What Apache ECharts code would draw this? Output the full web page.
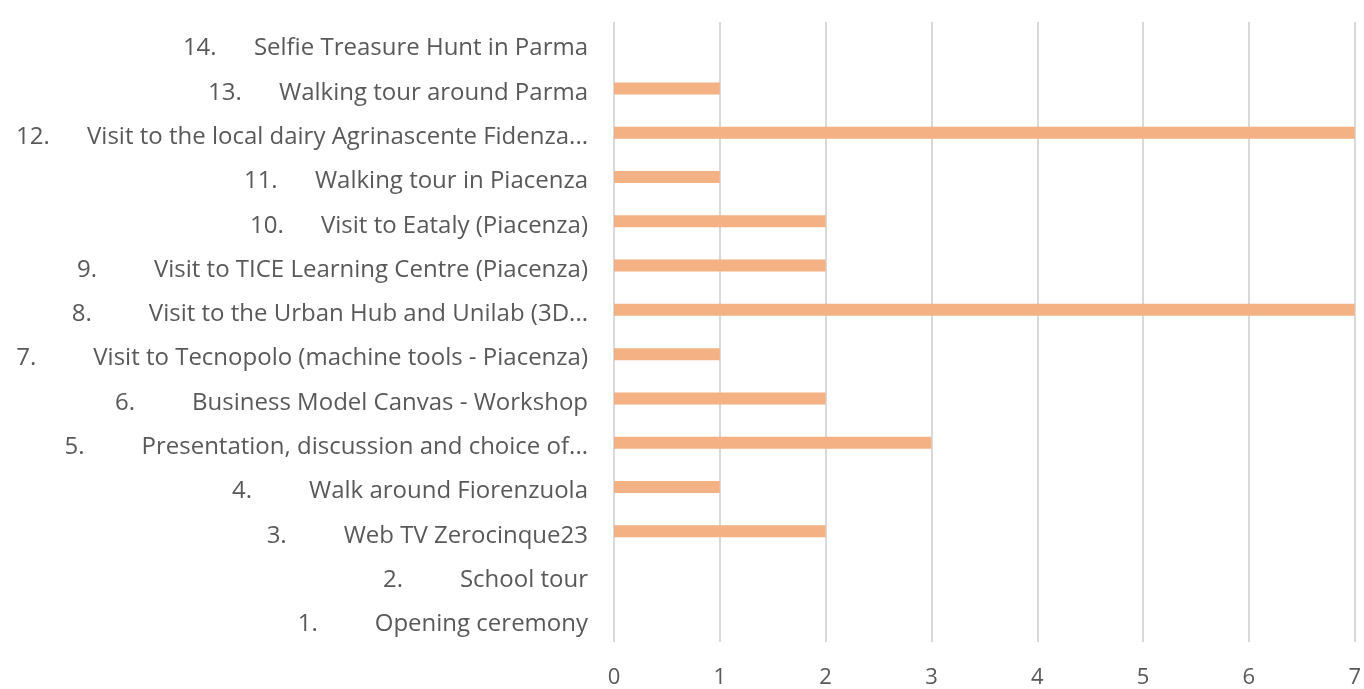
<!DOCTYPE html>
<html>
<head>
<meta charset="utf-8">
<script src="https://cdn.jsdelivr.net/npm/echarts@6/dist/echarts.min.js"></script>
<style>
    html, body { margin: 0; padding: 0; background: #fff; }
    #chart { width: 1364px; height: 689px; }
</style>
</head>
<body>
<div id="chart"></div>
<script>
var activityNums = ['1.', '2.', '3.', '4.', '5.', '6.', '7.', '8.', '9.', '10.', '11.', '12.', '13.', '14.'];
var activityNames = [
    'Opening ceremony',
    'School tour',
    'Web TV Zerocinque23',
    'Walk around Fiorenzuola',
    'Presentation, discussion and choice of...',
    'Business Model Canvas - Workshop',
    'Visit to Tecnopolo (machine tools - Piacenza)',
    'Visit to the Urban Hub and Unilab (3D...',
    'Visit to TICE Learning Centre (Piacenza)',
    'Visit to Eataly (Piacenza)',
    'Walking tour in Piacenza',
    'Visit to the local dairy Agrinascente Fidenza...',
    'Walking tour around Parma',
    'Selfie Treasure Hunt in Parma'
];
var votes = [0, 0, 2, 1, 3, 2, 1, 7, 2, 2, 1, 7, 1, 0];
var xTicks = [0, 7, 1];

(function () {
    var dom = document.getElementById('chart');
    var myChart = echarts.init(dom);
    var font = 'Open Sans';
    var categories = activityNames.map(function (name, i) {
        return activityNums[i] + '|' + name;
    });

    var option = {
        animation: false,
        grid: { left: 614, right: 6, top: 22, bottom: 45 },
        xAxis: {
            type: 'value',
            min: xTicks[0],
            max: xTicks[1],
            interval: xTicks[2],
            axisLine: { show: false },
            axisTick: { show: false },
            splitLine: { lineStyle: { color: '#d9d9d9', width: 2 } },
            axisLabel: { color: '#595959', fontSize: 22, fontFamily: font, margin: 25 }
        },
        yAxis: {
            type: 'category',
            data: categories,
            axisLine: { show: false },
            axisTick: { show: false },
            axisLabel: {
                margin: 26,
                padding: [9, 0, 0, 0],
                formatter: function (v) {
                    var p = v.split('|');
                    var style = p[0].length > 2 ? 'n2' : 'n1';
                    return '{' + style + '|' + p[0] + '}{t|' + p[1] + '}';
                },
                rich: {
                    n1: { width: 77, align: 'left', color: '#595959', fontSize: 24, fontFamily: font },
                    n2: { width: 71, align: 'left', color: '#595959', fontSize: 24, fontFamily: font },
                    t: { color: '#595959', fontSize: 24, fontFamily: font }
                }
            }
        },
        series: [{
            type: 'bar',
            data: votes,
            barWidth: 12,
            itemStyle: { color: '#f4b183' }
        }]
    };
    myChart.setOption(option, true);
})();
</script>
</body>
</html>
